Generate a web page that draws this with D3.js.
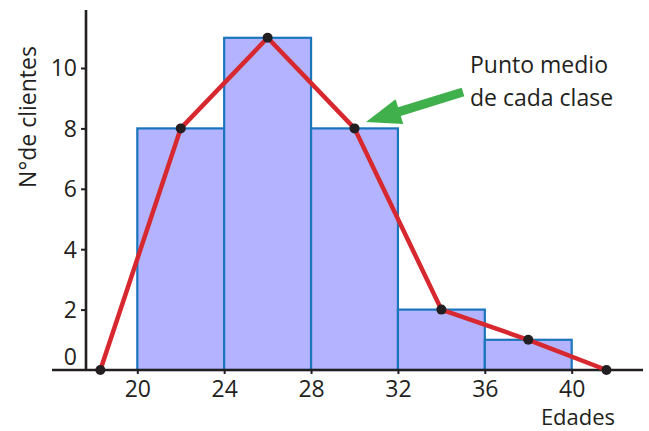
<!DOCTYPE html>
<html><head><meta charset="utf-8">
<script src="https://cdn.jsdelivr.net/npm/d3@7"></script>
<style>
html,body{margin:0;padding:0;background:#fff;}
svg{display:block;font-family:"Open Sans",sans-serif;}
</style></head>
<body><svg id="c" width="649" height="431"></svg>
<script>
// Data
const binStarts = [20, 24, 28, 32, 36];
const binWidth = 4;
const frequencies = [8, 11, 8, 2, 1];
const polygonX = [18.3, 22, 26, 30, 34, 38, 41.6];
const polygonY = [0, 8, 11, 8, 2, 1, 0];
const xTicks = [20, 24, 28, 32, 36, 40];
const yTicks = [0, 2, 4, 6, 8, 10];
const yTitle = "N°de clientes";
const xTitle = "Edades";
const noteLines = ["Punto medio", "de cada clase"];

const svg = d3.select("#c");
const x = d3.scaleLinear().domain([20, 40]).range([137.3, 571.7]);
const y = d3.scaleLinear().domain([0, 10]).range([370, 68]);
const axisX0 = 86;
const textColor = "#231f20";

// Bars
svg.append("g").selectAll("rect").data(binStarts).join("rect")
  .attr("x", d => x(d))
  .attr("y", (d, i) => y(frequencies[i]))
  .attr("width", d => x(d + binWidth) - x(d))
  .attr("height", (d, i) => y(0) - y(frequencies[i]))
  .attr("fill", "#b3b3ff")
  .attr("stroke", "#1b75bc")
  .attr("stroke-width", 2.2);

// X axis
const gx = svg.append("g").attr("transform", `translate(0,${y(0)})`)
  .call(d3.axisBottom(x).tickValues(xTicks).tickSize(4).tickPadding(7).tickFormat(d3.format("d")));
gx.select(".domain").remove();
gx.selectAll(".tick line").attr("stroke", textColor).attr("stroke-width", 2);
gx.selectAll(".tick text").attr("fill", textColor).style("font-size", "23px").style("font-family", "'Open Sans',sans-serif");
svg.append("line").attr("x1", 52).attr("x2", 643).attr("y1", y(0)).attr("y2", y(0))
  .attr("stroke", textColor).attr("stroke-width", 2.6);

// Y axis
const gy = svg.append("g").attr("transform", `translate(${axisX0},0)`)
  .call(d3.axisLeft(y).tickValues(yTicks).tickSize(5).tickPadding(4).tickFormat(d3.format("d")));
gy.select(".domain").remove();
gy.selectAll(".tick line").attr("stroke", textColor).attr("stroke-width", 2)
  .attr("display", d => d === 0 ? "none" : null);
gy.selectAll(".tick text").attr("fill", textColor).style("font-size", "23px").style("font-family", "'Open Sans',sans-serif")
  .attr("dy", d => d === 0 ? "-0.25em" : "0.34em");
svg.append("line").attr("x1", axisX0).attr("x2", axisX0).attr("y1", 10).attr("y2", y(0))
  .attr("stroke", textColor).attr("stroke-width", 2.6);

// Frequency polygon
const pts = polygonX.map((v, i) => [x(v), y(polygonY[i])]);
svg.append("path").attr("d", d3.line()(pts))
  .attr("fill", "none").attr("stroke", "#d7282f").attr("stroke-width", 4.5).attr("stroke-linejoin", "round");
svg.append("g").selectAll("circle").data(pts).join("circle")
  .attr("cx", d => d[0]).attr("cy", d => d[1]).attr("r", 5).attr("fill", "#231f20");

// Titles
svg.append("text").attr("transform", "translate(36,117) rotate(-90)")
  .attr("text-anchor", "middle").attr("fill", textColor).style("font-size", "23px").text(yTitle);
svg.append("text").attr("x", 578).attr("y", 425).attr("text-anchor", "middle")
  .attr("fill", textColor).style("font-size", "22px").text(xTitle);

// Annotation
svg.append("g").selectAll("text").data(noteLines).join("text")
  .attr("x", 470).attr("y", (d, i) => 73 + i * 33)
  .attr("fill", textColor).style("font-size", "23px").text(d => d);

// Green arrow
const tail = [463, 92], tip = [366, 122];
const dx = tip[0] - tail[0], dy = tip[1] - tail[1];
const L = Math.hypot(dx, dy), ux = dx / L, uy = dy / L, nx = -uy, ny = ux;
const headLen = 35, headHalf = 13, shaftHalf = 4.5;
const bx = tip[0] - ux * headLen, by = tip[1] - uy * headLen;
const arrow = [
  [tail[0] + nx * shaftHalf, tail[1] + ny * shaftHalf],
  [bx + nx * shaftHalf, by + ny * shaftHalf],
  [bx + nx * headHalf, by + ny * headHalf],
  tip,
  [bx - nx * headHalf, by - ny * headHalf],
  [bx - nx * shaftHalf, by - ny * shaftHalf],
  [tail[0] - nx * shaftHalf, tail[1] - ny * shaftHalf]
];
svg.append("path").attr("d", d3.line()(arrow) + "Z").attr("fill", "#3fb04b");
</script></body></html>
